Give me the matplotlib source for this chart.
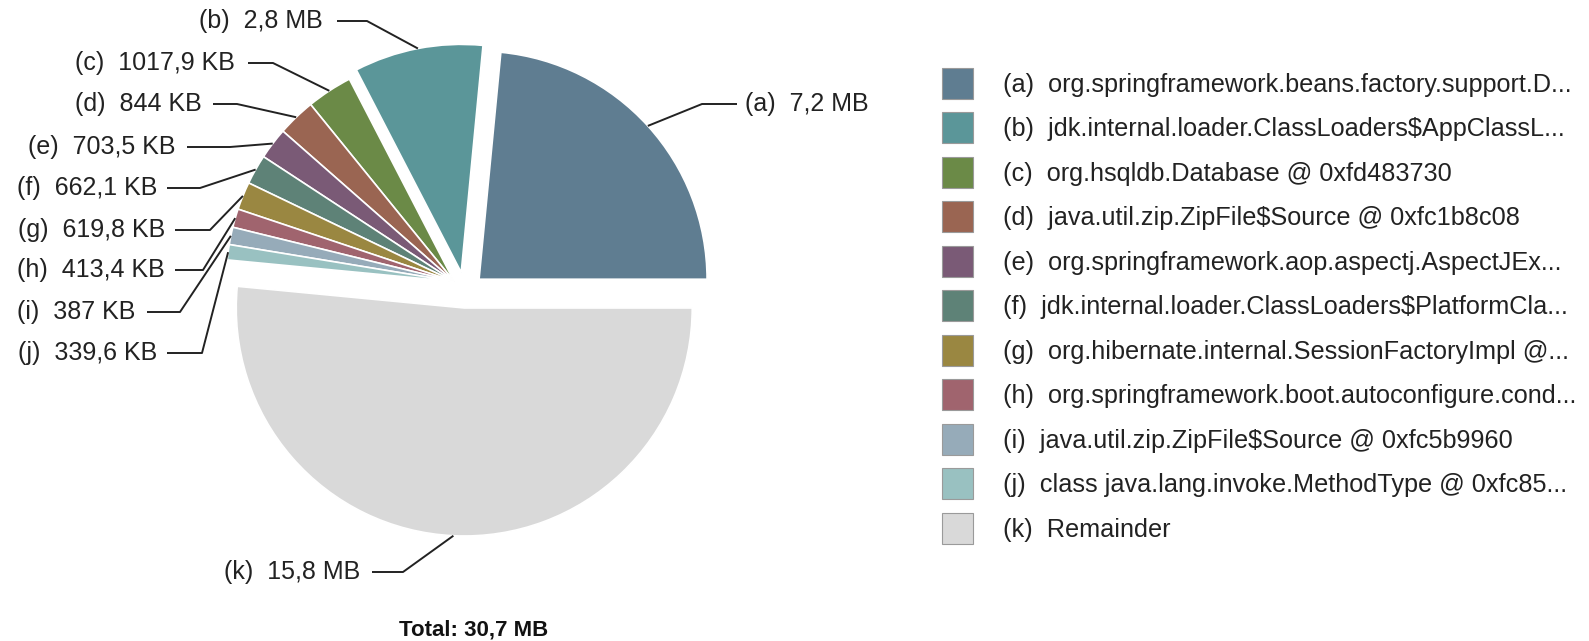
import numpy as np
import matplotlib
matplotlib.use("Agg")
from matplotlib import pyplot as plt
from matplotlib.patches import Patch

plt.rcParams['font.family'] = ['Liberation Sans', 'DejaVu Sans']

# heap sizes (MB) of the biggest objects
keys = ['a', 'b', 'c', 'd', 'e', 'f', 'g', 'h', 'i', 'j', 'k']
sizes_mb = [7.2, 2.8, 1017.9 / 1024, 844 / 1024, 703.5 / 1024, 662.1 / 1024,
            619.8 / 1024, 413.4 / 1024, 387 / 1024, 339.6 / 1024, 15.8]
size_labels = ['7,2 MB', '2,8 MB', '1017,9 KB', '844 KB', '703,5 KB', '662,1 KB',
               '619,8 KB', '413,4 KB', '387 KB', '339,6 KB', '15,8 MB']
names = ['org.springframework.beans.factory.support.D...',
         'jdk.internal.loader.ClassLoaders$AppClassL...',
         'org.hsqldb.Database @ 0xfd483730',
         'java.util.zip.ZipFile$Source @ 0xfc1b8c08',
         'org.springframework.aop.aspectj.AspectJEx...',
         'jdk.internal.loader.ClassLoaders$PlatformCla...',
         'org.hibernate.internal.SessionFactoryImpl @...',
         'org.springframework.boot.autoconfigure.cond...',
         'java.util.zip.ZipFile$Source @ 0xfc5b9960',
         'class java.lang.invoke.MethodType @ 0xfc85...',
         'Remainder']
total_label = 'Total: 30,7 MB'
colors = ['#5f7d91', '#5b9699', '#6b8a47', '#9a6552', '#7a5a76', '#5e8277',
          '#9a8741', '#a0646e', '#96abb9', '#99c1c1', '#d9d9d9']

W, H = 1589, 641
fig = plt.figure(figsize=(W / 100, H / 100), dpi=100)
ax = fig.add_axes([0, 0, 1, 1])

def P(x, y):
    # image pixel (y down) -> data coords (y up)
    return x, H - y

cx, cy = P(465, 292)
R = 228
explode = [19, 20, 0, 0, 0, 0, 0, 0, 0, 0, 16]
wedges, _ = ax.pie(sizes_mb, colors=colors, startangle=0, counterclock=True,
                   radius=R, center=(cx, cy), explode=explode,
                   wedgeprops=dict(edgecolor='white', linewidth=1.2))

# small slices are pulled out together as one group
t1 = wedges[2].theta1
t2 = wedges[9].theta2
gm = np.deg2rad((t1 + t2) / 2 - 10)
for w in wedges[2:10]:
    w.set_center((cx + 15 * np.cos(gm), cy + 15 * np.sin(gm)))

ax.set_xlim(0, W)
ax.set_ylim(0, H)
ax.set_aspect('auto')
ax.set_axis_off()

# label placement: (text anchor x, y, ha, line start x, elbow x)
label_pos = {
    'a': (745, 104, 'left', 737, 702),
    'b': (323, 21, 'right', 337, 367),
    'c': (235, 63, 'right', 248, 273),
    'd': (202, 104, 'right', 213, 237),
    'e': (175, 147, 'right', 187, 230),
    'f': (157, 188, 'right', 167, 200),
    'g': (165, 230, 'right', 175, 210),
    'h': (165, 270, 'right', 175, 203),
    'i': (135, 312, 'right', 147, 180),
    'j': (157, 353, 'right', 167, 202),
    'k': (360, 572, 'right', 372, 403),
}

for w, key, lab in zip(wedges, keys, size_labels):
    tx, ty, ha, lx, ex = label_pos[key]
    th = np.deg2rad((w.theta1 + w.theta2) / 2)
    wx, wy = w.center
    px, py = wx + R * np.cos(th), wy + R * np.sin(th)
    _, yy = P(0, ty)
    ax.plot([lx, ex, px], [yy, yy, py], color='#222222', lw=1.4,
            solid_capstyle='butt')
    ax.text(*P(tx, ty), f'({key})  {lab}', ha=ha, va='center',
            fontsize=18, color='#222222')

ax.text(*P(474, 630), total_label, ha='center', va='center',
        fontsize=16, fontweight='bold', color='#111111')

handles = [Patch(facecolor=c, edgecolor='#9a9a9a', linewidth=0.8) for c in colors]
leg_labels = [f'({k})  {n}' for k, n in zip(keys, names)]
fs = 18.2
fpx = fs * 100 / 72
fig.legend(handles, leg_labels, loc='upper left',
           bbox_to_anchor=(942 / W, 1 - 68 / H), frameon=False,
           fontsize=fs, handlelength=31 / fpx, handleheight=1.5,
           handletextpad=30 / fpx, labelspacing=0.54, borderpad=0,
           borderaxespad=0, labelcolor='#222222')

fig.savefig('out.png', dpi=100, facecolor='white')
